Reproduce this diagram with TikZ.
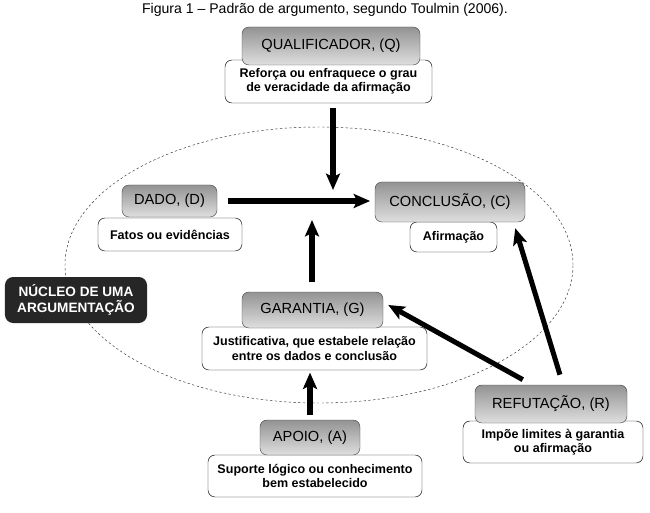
\documentclass[tikz,border=0pt]{standalone}
\usepackage{fontspec}
\setmainfont{Liberation Sans}
\usetikzlibrary{arrows.meta, calc, positioning}
\tikzset{
	headbox/.style={draw=gray!55!black, rounded corners=6pt, top color=gray!85, bottom color=gray!25, inner sep=0pt, font=\fontsize{12.5}{14}\selectfont}
}
\tikzset{
	textbox/.style={draw=black, fill=white, rounded corners=6pt, inner sep=0pt, align=center, font=\fontsize{10.7}{12}\selectfont\bfseries}
}
\tikzset{
	bigarrow/.style={line width=4.3pt, -{Stealth[length=14pt, width=12pt, inset=3pt]}}
}

\begin{document}
\begin{tikzpicture}[x=0.03cm, y=-0.03cm]
      \useasboundingbox (0,0) rectangle (650,513);
      \node[font=\fontsize{12}{14}\selectfont] (title) at (325,10) {Figura 1 -- Padrão de argumento, segundo Toulmin (2006).};
      % nucleus of the argument
      \draw[gray!40!black, thin, dash pattern=on 2pt off 2pt] (319,265) ellipse [x radius=7.62cm, y radius=4.14cm];
      % text boxes first, headers on top
      \node[textbox, minimum width=6.21cm, minimum height=1.29cm] (qualText) at (328.5,81.5) {Reforça ou enfraquece o grau\\de veracidade da afirmação};
      \node[headbox, minimum width=5.34cm, minimum height=1.14cm] (qualHead) at (331,46) {QUALIFICADOR, (Q)};
      \node[textbox, minimum width=4.32cm, minimum height=0.99cm] (dadoText) at (170,234.5) {Fatos ou evidências};
      \node[headbox, minimum width=2.85cm, minimum height=0.96cm] (dadoHead) at (169.5,201) {DADO, (D)};
      \node[textbox, minimum width=2.61cm, minimum height=0.9cm] (concText) at (453.5,237) {Afirmação};
      \node[headbox, minimum width=4.5cm, minimum height=1.2cm] (concHead) at (450,202) {CONCLUSÃO, (C)};
      \node[textbox, minimum width=6.75cm, minimum height=1.29cm] (garText) at (314.5,348.5) {Justificativa, que estabele relação\\entre os dados e conclusão};
      \node[headbox, minimum width=4.23cm, minimum height=1.08cm] (garHead) at (312.5,310) {GARANTIA, (G)};
      \node[textbox, minimum width=5.4cm, minimum height=1.26cm] (refText) at (553,442) {Impõe limites à garantia\\ou afirmação};
      \node[headbox, minimum width=4.56cm, minimum height=1.14cm] (refHead) at (551,404) {REFUTAÇÃO, (R)};
      \node[textbox, minimum width=6.42cm, minimum height=1.26cm] (apoText) at (315,476) {Suporte lógico ou conhecimento\\bem estabelecido};
      \node[headbox, minimum width=3cm, minimum height=1.05cm] (apoHead) at (310,437.5) {APOIO, (A)};
      \node[fill=black!85, text=white, rounded corners=7pt, align=center, minimum width=4.26cm, minimum height=1.38cm, font=\fontsize{11.6}{13}\selectfont\bfseries] (nucleo) at (76,300) {NÚCLEO DE UMA\\ARGUMENTAÇÃO};
      % arrows
      \coordinate (qTip) at (333,190);
      \coordinate (gTip) at (312,220);
      \draw[bigarrow, shorten <=4pt] (qualText.south -| qTip) -- (qTip);
      \draw[bigarrow, shorten <=9pt, shorten >=4pt] (dadoHead.east) -- (dadoHead.east -| concHead.west);
      \draw[bigarrow, shorten <=8pt] (garHead.north -| gTip) -- (gTip);
      \draw[bigarrow, shorten <=4pt, shorten >=2pt] (apoHead.north) -- (apoHead.north |- garText.south);
      \draw[bigarrow, shorten <=9pt] ($(refHead.north)+(-19,0)$) -- ($(garHead.east)+(5,-5)$);
      \draw[bigarrow, shorten <=9pt] ($(refHead.north)+(12,0)$) -- ($(concHead.south east)+(-10,6)$);
    \end{tikzpicture}
\end{document}
